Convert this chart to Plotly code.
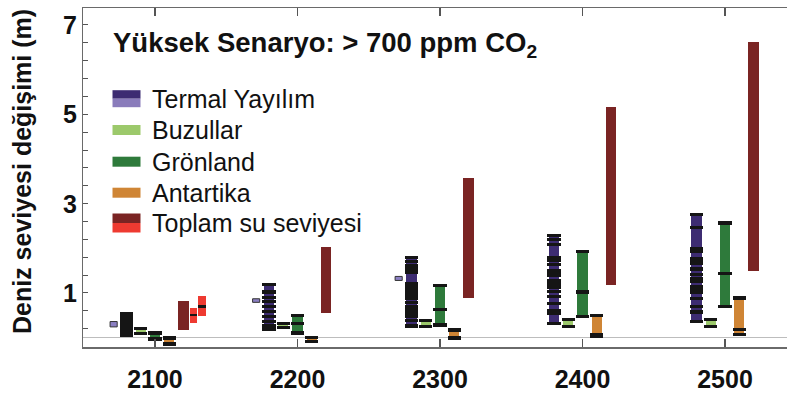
import plotly.graph_objects as go

# ---------------- data (sea-level change, m) ----------------
centuries = [2100, 2200, 2300, 2400, 2500]
x_tick_labels = ["2100", "2200", "2300", "2400", "2500"]
y_tick_values = [1, 3, 5, 7]
y_tick_labels = ["1", "3", "5", "7"]

# low-scenario thermal expansion (small light-purple boxes)
lowscen_low = [0.24, 0.79, 1.28, None, None]
lowscen_high = [0.36, 0.87, 1.37, None, None]

thermal_low = [0.02, 0.16, 0.23, 0.31, 0.34]
thermal_high = [0.56, 1.20, 1.80, 2.31, 2.77]
thermal_models = [
    [0.05, 0.12, 0.19, 0.26, 0.33, 0.40, 0.47, 0.53],
    [0.19, 0.26, 0.36, 0.48, 0.59, 0.70, 0.81, 0.90, 1.02, 1.19],
    [0.26, 0.38, 0.48, 0.55, 0.62, 0.69, 0.79, 0.89, 0.95, 1.01, 1.08, 1.14, 1.20,
     1.46, 1.54, 1.61, 1.70, 1.79],
    [0.32, 0.54, 0.61, 0.77, 0.92, 1.04, 1.13, 1.20, 1.28, 1.39, 1.45, 1.50, 1.64,
     1.73, 1.80, 2.09, 2.19, 2.29],
    [0.36, 0.57, 0.70, 0.87, 1.02, 1.08, 1.13, 1.26, 1.33, 1.41, 1.54, 1.67, 1.76,
     1.93, 2.00, 2.46, 2.76],
]

glaciers_low = [0.10, 0.22, 0.25, 0.25, 0.25]
glaciers_high = [0.20, 0.32, 0.38, 0.40, 0.40]

greenland_low = [-0.03, 0.10, 0.28, 0.47, 0.70]
greenland_high = [0.10, 0.49, 1.17, 1.93, 2.57]
greenland_mid = [None, 0.32, 0.63, 1.02, 1.44]

antarctica_low = [-0.14, -0.09, -0.01, 0.02, 0.07]
antarctica_high = [-0.01, 0.00, 0.17, 0.49, 0.89]
antarctica_models = [[], [], [], [0.06], [0.18]]

total_low = [0.17, 0.55, 0.89, 1.18, 1.50]
total_high = [0.81, 2.02, 3.58, 5.16, 6.61]

# 2100 only: total sea level, other estimates (bright red)
red_low = [0.32, 0.49]
red_high = [0.67, 0.94]
red_mid = [0.51, 0.70]

legend_labels = ["Termal Yayılım", "Buzullar", "Grönland", "Antartika", "Toplam su seviyesi"]
title_text = "<b>Yüksek Senaryo: > 700 ppm CO<sub>2</sub></b>"
y_title = "<b>Deniz seviyesi değişimi (m)</b>"

# ---------------- style / layout ----------------
W, H = 787, 396
ML, MT, MB = 83, 8, 49
PW, PH = W - ML, H - MT - MB
FONT = "Liberation Sans, Arial, sans-serif"
C_TH = "#3d2c72"
C_TH_LIGHT = "#8b7fc2"
C_GL = "#9cc96b"
C_GR = "#2e7a3b"
C_AN = "#cf8535"
C_TOT = "#7a2423"
C_RED = "#ee3a31"
C_BLK = "#151515"

OFF_LOW, OFF_TH, OFF_GL, OFF_GR, OFF_AN, OFF_TOT = -29, -20, -10, 0, 10, 20
OFF_RED = [27, 33]
BODY_W, CAP_W, THIN_W = 7.2, 9.2, 5.0
MARK_H = 0.075

fig = go.Figure()


def body(xs, lows, highs, color, width, line=None):
    xx, bb, hh = [], [], []
    for x, lo, hi in zip(xs, lows, highs):
        if lo is None:
            continue
        xx.append(x)
        bb.append(lo)
        hh.append(hi - lo)
    fig.add_trace(go.Bar(
        x=xx, y=hh, base=bb, width=width, marker_color=color,
        marker_line_width=(line[1] if line else 0),
        marker_line_color=(line[0] if line else color),
        opacity=1, showlegend=False, hoverinfo="skip"))


def marks(xs, vals_lists, width, color=C_BLK, h=MARK_H):
    xx, bb, hh = [], [], []
    for x, vals in zip(xs, vals_lists):
        for v in vals:
            if v is None:
                continue
            xx.append(x)
            bb.append(v - h / 2)
            hh.append(h)
    fig.add_trace(go.Bar(
        x=xx, y=hh, base=bb, width=width, marker_color=color,
        marker_line_width=0, opacity=1, showlegend=False, hoverinfo="skip"))


xs = lambda off: [c + off for c in centuries]

# low-scenario boxes
body(xs(OFF_LOW), lowscen_low, lowscen_high, C_TH_LIGHT, THIN_W, line=("#333333", 1))

# thermal expansion
body(xs(OFF_TH), thermal_low, thermal_high, C_TH, BODY_W)
marks(xs(OFF_TH), thermal_models, CAP_W)

# glaciers
body(xs(OFF_GL), glaciers_low, glaciers_high, C_GL, BODY_W)
marks(xs(OFF_GL), [[lo, hi] for lo, hi in zip(glaciers_low, glaciers_high)], CAP_W, h=0.065)

# Greenland
body(xs(OFF_GR), greenland_low, greenland_high, C_GR, BODY_W)
marks(xs(OFF_GR), [[lo, hi, m] for lo, hi, m in zip(greenland_low, greenland_high, greenland_mid)], CAP_W)

# Antarctica
body(xs(OFF_AN), antarctica_low, antarctica_high, C_AN, BODY_W)
marks(xs(OFF_AN), [[lo, hi] + ex for lo, hi, ex in zip(antarctica_low, antarctica_high, antarctica_models)], CAP_W)

# total
body(xs(OFF_TOT), total_low, total_high, C_TOT, BODY_W)

# 2100 red estimates
red_x = [centuries[0] + o for o in OFF_RED]
body(red_x, red_low, red_high, C_RED, THIN_W)
marks(red_x, [[m] for m in red_mid], THIN_W, h=0.06)

# ---------------- legend (drawn) ----------------
def px(x):
    return (x - ML) / PW


def py(y):
    return (H - MB - y) / PH


shapes = []
annotations = []
row_y = [98.7, 130.0, 161.7, 192.7, 223.0]
sw_x0, sw_x1 = 112.5, 140.5
swatches = [
    [(C_TH, -8.5, 0), ("#8a7cbb", 0, 8.5)],
    [(C_GL, -5, 5)],
    [(C_GR, -5, 5)],
    [(C_AN, -5, 5)],
    [(C_TOT, -9.5, 0), (C_RED, 0, 9.5)],
]
for yc, parts, lab in zip(row_y, swatches, legend_labels):
    for col, a, b in parts:
        shapes.append(dict(type="rect", xref="paper", yref="paper",
                           x0=px(sw_x0), x1=px(sw_x1), y0=py(yc + b), y1=py(yc + a),
                           fillcolor=col, line=dict(width=0), layer="above"))
    annotations.append(dict(text=lab, xref="paper", yref="paper", x=px(150), y=py(yc),
                            xanchor="left", yanchor="middle", showarrow=False,
                            font=dict(family=FONT, size=25, color="#111111")))

# y tick labels (placed next to the axis)
for v, t in zip(y_tick_values, y_tick_labels):
    annotations.append(dict(text="<b>" + t + "</b>", xref="paper", yref="y", x=px(79), y=v,
                            xanchor="right", yanchor="middle", showarrow=False,
                            font=dict(family=FONT, size=25, color="#111111")))

annotations.append(dict(text=title_text, xref="paper", yref="paper", x=px(111), y=py(45),
                        xanchor="left", yanchor="middle", showarrow=False,
                        font=dict(family=FONT, size=27.5, color="#111111")))
annotations.append(dict(text=y_title, xref="paper", yref="paper", x=px(22), y=py(172),
                        xanchor="center", yanchor="middle", showarrow=False, textangle=-90,
                        font=dict(family=FONT, size=25, color="#111111")))

fig.update_layout(
    width=W, height=H,
    margin=dict(l=ML, r=0, t=MT, b=MB, pad=0, autoexpand=False),
    paper_bgcolor="white", plot_bgcolor="white",
    barmode="overlay", bargap=0, hovermode=False, showlegend=False,
    shapes=shapes, annotations=annotations,
    font=dict(family=FONT, color="#111111"),
)
fig.update_xaxes(
    range=[2049.5, 2543.5], tickvals=centuries, ticktext=x_tick_labels,
    ticks="inside", ticklen=8, tickwidth=1.5, tickcolor="#555555",
    showline=True, linecolor="#6a6a6a", linewidth=1.5, mirror="allticks",
    showgrid=False, zeroline=False, automargin=False,
    tickfont=dict(family=FONT, size=25, weight="bold", color="#111111"),
    ticklabelstandoff=9,
)
fig.update_yaxes(
    range=[-0.21, 7.38], tickvals=y_tick_values, showticklabels=False,
    ticks="inside", ticklen=5, tickwidth=1, tickcolor="#555555",
    minor=dict(tick0=0.2, dtick=0.4, ticks="inside", ticklen=5, tickcolor="#555555", tickwidth=1),
    showline=True, linecolor="#6a6a6a", linewidth=1.5, mirror=False,
    showgrid=False, zeroline=True, zerolinecolor="#bdbdbd", zerolinewidth=1.5,
    automargin=False,
)

fig.write_html(
    "out.html",
    config={"displayModeBar": False, "staticPlot": True},
    post_script="document.body.style.margin='0';document.body.style.overflow='hidden';",
)
